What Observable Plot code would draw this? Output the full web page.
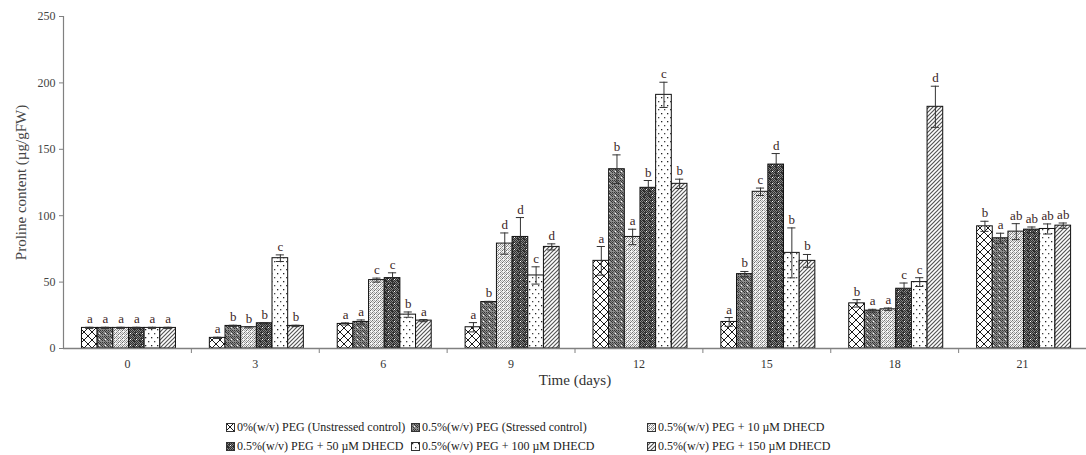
<!DOCTYPE html>
<html>
<head>
<meta charset="utf-8">
<script src="https://cdn.jsdelivr.net/npm/d3@7"></script>
<script src="https://cdn.jsdelivr.net/npm/@observablehq/plot@0.6"></script>
<style>
  html, body { margin: 0; padding: 0; background: #fff; }
  body { width: 1086px; height: 455px; overflow: hidden; font-family: "Liberation Serif", serif; }
  #legend { display: grid; grid-template-columns: 185px 236px auto; margin-left: 226px; margin-top: 19px; row-gap: 3px; font-size: 12px; color: #222; }
  #legend .item { display: flex; align-items: center; white-space: nowrap; line-height: 16px; }
  #legend svg { margin-right: 2px; }
</style>
</head>
<body>
<svg width="0" height="0" style="position:absolute">
  <defs>
    <pattern id="p0" patternUnits="userSpaceOnUse" width="8" height="8">
      <rect width="8" height="8" fill="#fff"/>
      <path d="M0,0L8,8M8,0L0,8M-1,7L1,9M7,-1L9,1" stroke="#000" stroke-width="0.9"/>
    </pattern>
    <pattern id="p1" patternUnits="userSpaceOnUse" width="6" height="6">
      <rect width="6" height="6" fill="#8c8c8c"/>
      <rect x="0" y="0" width="1" height="1" fill="#333"/><rect x="2" y="0" width="1" height="1" fill="#333"/><rect x="4" y="0" width="1" height="1" fill="#333"/>
      <rect x="1" y="1" width="1" height="1" fill="#555"/><rect x="3" y="1" width="1" height="1" fill="#333"/><rect x="5" y="1" width="1" height="1" fill="#555"/>
      <rect x="0" y="2" width="1" height="1" fill="#333"/><rect x="4" y="2" width="1" height="1" fill="#333"/>
      <rect x="1" y="3" width="1" height="1" fill="#555"/><rect x="5" y="3" width="1" height="1" fill="#333"/>
      <rect x="0" y="4" width="1" height="1" fill="#333"/><rect x="2" y="4" width="1" height="1" fill="#333"/>
      <rect x="3" y="5" width="1" height="1" fill="#555"/>
      <rect x="3" y="3" width="1" height="1" fill="#fff"/>
    </pattern>
    <pattern id="p2" patternUnits="userSpaceOnUse" width="4" height="4">
      <rect width="4" height="4" fill="#f4f4f4"/>
      <rect x="0" y="0" width="1" height="1" fill="#777"/><rect x="2" y="0" width="1" height="1" fill="#aaa"/>
      <rect x="1" y="1" width="1" height="1" fill="#aaa"/><rect x="3" y="1" width="1" height="1" fill="#888"/>
      <rect x="0" y="2" width="1" height="1" fill="#aaa"/><rect x="2" y="2" width="1" height="1" fill="#666"/>
      <rect x="1" y="3" width="1" height="1" fill="#999"/>
    </pattern>
    <pattern id="p3" patternUnits="userSpaceOnUse" width="6" height="6">
      <rect width="6" height="6" fill="#2e2e2e"/>
      <rect x="1" y="0" width="1" height="1" fill="#8a8a8a"/><rect x="3" y="0" width="1" height="1" fill="#777"/><rect x="5" y="0" width="1" height="1" fill="#8a8a8a"/>
      <rect x="0" y="1" width="1" height="1" fill="#777"/><rect x="2" y="1" width="1" height="1" fill="#8a8a8a"/><rect x="4" y="1" width="1" height="1" fill="#777"/>
      <rect x="1" y="2" width="1" height="1" fill="#777"/><rect x="5" y="2" width="1" height="1" fill="#8a8a8a"/>
      <rect x="0" y="3" width="1" height="1" fill="#8a8a8a"/><rect x="2" y="3" width="1" height="1" fill="#777"/>
      <rect x="3" y="4" width="1" height="1" fill="#8a8a8a"/><rect x="5" y="4" width="1" height="1" fill="#777"/>
      <rect x="4" y="5" width="1" height="1" fill="#777"/><rect x="0" y="5" width="1" height="1" fill="#8a8a8a"/>
      <rect x="4" y="3" width="1" height="1" fill="#fff"/>
    </pattern>
    <pattern id="p4" patternUnits="userSpaceOnUse" width="6" height="8">
      <rect width="6" height="8" fill="#fff"/>
      <rect x="1" y="1" width="1.3" height="1.3" fill="#222"/>
      <rect x="4" y="5" width="1.3" height="1.3" fill="#444"/>
    </pattern>
    <pattern id="p5" patternUnits="userSpaceOnUse" width="4" height="4">
      <rect width="4" height="4" fill="#fff"/>
      <path d="M-1,1L1,-1M0,4L4,0M3,5L5,3" stroke="#555" stroke-width="1.2"/>
    </pattern>
  </defs>
</svg>
<div id="chart"></div>
<div id="legend"></div>
<script>
// ---- data ----
const days = ["0", "3", "6", "9", "12", "15", "18", "21"];
const seriesNames = [
  "0%(w/v) PEG (Unstressed control)",
  "0.5%(w/v) PEG (Stressed control)",
  "0.5%(w/v) PEG + 10 \u00b5M DHECD",
  "0.5%(w/v) PEG + 50 \u00b5M DHECD",
  "0.5%(w/v) PEG + 100 \u00b5M DHECD",
  "0.5%(w/v) PEG + 150 \u00b5M DHECD"
];
const unstressed   = [15.5, 8,  18.5, 16,   66,  20,    34,   92];
const stressed     = [15.5, 17, 20,   35,   135, 56,    28.5, 83];
const dhecd10      = [15.5, 16, 51.5, 79,   84,  118,   29.5, 88];
const dhecd50      = [15.5, 19, 53,   84,   121, 138.5, 45,   89.5];
const dhecd100     = [15.5, 68, 25.5, 55,   191, 72,    50,   90];
const dhecd150     = [15.5, 17, 21,   76.5, 124, 66,    182,  92.5];

const errUnstressed = [0.5, 0.5, 0.8, 3.5, 10.8, 3.3, 2.8, 3.8];
const errStressed   = [0.5, 0.5, 1.5, 0.5, 10.8, 2,   1,   3.8];
const err10         = [0.5, 0.5, 1.5, 8,   5.8,  2.8, 1,   6];
const err50         = [0.5, 0.5, 4,   14.6, 5.5, 8.3, 4.3, 2];
const err100        = [0.5, 2.5, 2,   6.5, 9.5,  18.8, 3.3, 3.8];
const err150        = [0.5, 0.5, 0.8, 2.3, 3.5,  4.8, 15.5, 2];

const letUnstressed = ["a", "a", "a", "a", "a", "a", "b", "b"];
const letStressed   = ["a", "b", "a", "b", "b", "b", "a", "a"];
const let10         = ["a", "b", "c", "d", "a", "c", "a", "ab"];
const let50         = ["a", "b", "c", "d", "b", "d", "c", "ab"];
const let100        = ["a", "c", "b", "c", "c", "b", "c", "ab"];
const let150        = ["a", "b", "a", "d", "b", "b", "d", "ab"];

const yTicks = [0, 50, 100, 150, 200, 250];

// ---- build table ----
const values = [unstressed, stressed, dhecd10, dhecd50, dhecd100, dhecd150];
const errors = [errUnstressed, errStressed, err10, err50, err100, err150];
const letters = [letUnstressed, letStressed, let10, let50, let100, let150];
const patterns = ["url(#p0)", "url(#p1)", "url(#p2)", "url(#p3)", "url(#p4)", "url(#p5)"];

const barW = 0.1225;      // bar width in group units
const capW = 0.032;       // half width of error caps
const rows = [];
days.forEach((d, g) => {
  seriesNames.forEach((s, i) => {
    const c = g + (i - 2.5) * barW + 0.012;
    rows.push({
      g, s, i,
      x1: c - barW / 2, x2: c + barW / 2, xc: c,
      v: values[i][g], e: errors[i][g], l: letters[i][g]
    });
  });
});

const chart = Plot.plot({
  width: 1086,
  height: 400,
  marginLeft: 63,
  marginRight: 0,
  marginTop: 16,
  marginBottom: 52,
  style: { fontFamily: "Liberation Serif, serif", fontSize: "12px", color: "#333", background: "#fff" },
  x: { domain: [-0.5, 7.5] },
  y: { domain: [0, 250] },
  marks: [
    Plot.rectY(rows, {
      x1: "x1", x2: "x2", y1: 0, y2: "v",
      fill: d => patterns[d.i], stroke: "#111", strokeWidth: 1
    }),
    Plot.ruleX(rows, { x: "xc", y1: d => d.v - d.e, y2: d => d.v + d.e, stroke: "#333", strokeWidth: 1 }),
    Plot.ruleY(rows, { y: d => d.v + d.e, x1: d => d.xc - capW, x2: d => d.xc + capW, stroke: "#333", strokeWidth: 1 }),
    Plot.ruleY(rows, { y: d => d.v - d.e, x1: d => d.xc - capW, x2: d => d.xc + capW, stroke: "#333", strokeWidth: 1 }),
    Plot.text(rows, {
      x: "xc", y: d => d.v + d.e, text: "l",
      lineAnchor: "bottom", dy: -4, fontSize: 13, fill: "#3a2424"
    }),
    Plot.ruleX([-0.5], { y1: 0, y2: 250, stroke: "#808080", strokeWidth: 1.2 }),
    Plot.ruleY([0], { stroke: "#808080", strokeWidth: 1.5 }),
    Plot.axisY({
      ticks: yTicks, tickSize: 4, tickPadding: 4, stroke: "#808080", color: "#444",
      label: "Proline content (\u00b5g/gFW)", labelAnchor: "center", labelArrow: "none",
      labelOffset: 48, fontSize: 12
    }),
    Plot.axisX({
      ticks: [0.5, 1.5, 2.5, 3.5, 4.5, 5.5, 6.5, 7.5], tickSize: 5, tickFormat: () => "",
      stroke: "#808080", label: null
    }),
    Plot.axisX({
      ticks: [0, 1, 2, 3, 4, 5, 6, 7], tickSize: 0, tickPadding: 11,
      tickFormat: i => days[i], color: "#333",
      label: "Time (days)", labelAnchor: "center", labelArrow: "none", labelOffset: 36
    })
  ]
});
document.getElementById("chart").appendChild(chart);

// style axis labels (larger font)
chart.querySelectorAll("g[aria-label='y-axis label'] text, g[aria-label='x-axis label'] text").forEach(t => {
  t.setAttribute("font-size", "15");
  t.style.fontSize = "15px";
});

// ---- legend ----
const legend = document.getElementById("legend");
seriesNames.forEach((s, i) => {
  const item = document.createElement("div");
  item.className = "item";
  item.innerHTML = `<svg width="9" height="9"><rect x="0.5" y="0.5" width="8" height="8" fill="${patterns[i]}" stroke="#333" stroke-width="1"/></svg><span>${s}</span>`;
  legend.appendChild(item);
});
</script>
</body>
</html>
